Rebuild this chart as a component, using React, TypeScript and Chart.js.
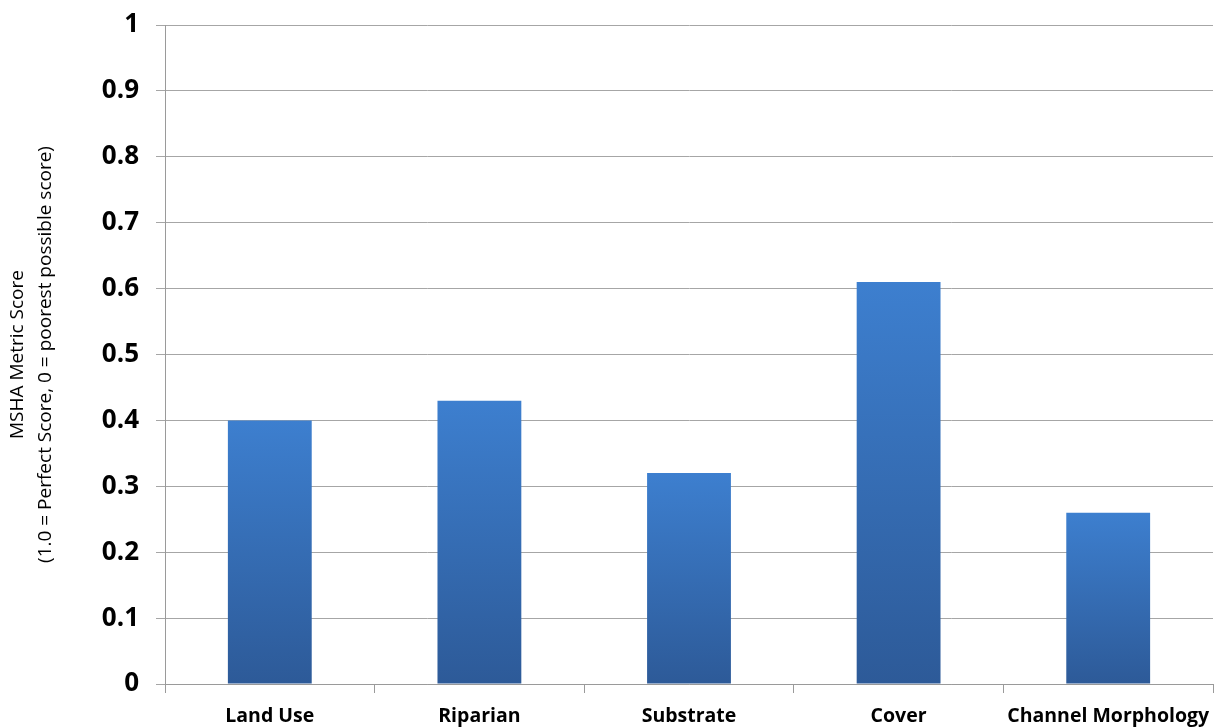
import React, { useEffect, useRef } from "react";
import { Chart, registerables } from "chart.js";

Chart.register(...registerables);

const categories = ["Land Use", "Riparian", "Substrate", "Cover", "Channel Morphology"];
const scores = [0.40, 0.43, 0.32, 0.61, 0.26];
const yTitleLines = ["MSHA Metric Score", "(1.0 = Perfect Score, 0 = poorest possible score)"];

export default function App() {
  const ref = useRef<HTMLCanvasElement | null>(null);
  useEffect(() => {
    document.body.style.margin = "0";
    const canvas = ref.current!;
    const barFill = (ctx: any) => {
      const chart = ctx.chart;
      const y = chart.scales?.y;
      if (!chart.chartArea || !y || ctx.raw == null) return "#3775c0";
      const top = y.getPixelForValue(ctx.raw);
      const bottom = y.getPixelForValue(0);
      if (!isFinite(top) || !isFinite(bottom) || top === bottom) return "#3775c0";
      const g = chart.ctx.createLinearGradient(0, top, 0, bottom);
      g.addColorStop(0, "#3d7fcf");
      g.addColorStop(1, "#2d5a98");
      return g;
    };
    const chart = new Chart(canvas, {
      type: "bar",
      data: {
        labels: categories,
        datasets: [
          {
            data: scores,
            backgroundColor: barFill,
            borderWidth: 0,
            barPercentage: 0.8,
            categoryPercentage: 0.5,
          },
        ],
      },
      options: {
        animation: false,
        responsive: false,
        maintainAspectRatio: false,
        layout: { padding: { top: 25, right: 0, left: 0, bottom: 0 } },
        plugins: { legend: { display: false }, tooltip: { enabled: false } },
        scales: {
          x: {
            grid: {
              display: true,
              drawOnChartArea: false,
              color: "#9a9a9a",
              tickLength: 9,
              offset: true,
            },
            border: { display: true, color: "#9a9a9a" },
            ticks: {
              color: "#000",
              font: { family: "Open Sans", size: 19.5, weight: "bold" },
              padding: 12,
              maxRotation: 0,
              autoSkip: false,
            },
            afterFit: (s: any) => {
              s.height = 44;
              s.paddingRight = 1;
              s.paddingLeft = 0;
            },
          },
          y: {
            min: 0,
            max: 1,
            ticks: {
              stepSize: 0.1,
              color: "#000",
              font: { family: "Open Sans", size: 26, weight: "bold" },
              padding: 17,
              callback: (v: any) => String(Math.round(Number(v) * 10) / 10),
            },
            grid: { color: "#a6a6a6", tickLength: 9 },
            border: { display: true, color: "#9a9a9a" },
            title: {
              display: true,
              text: yTitleLines,
              color: "#000",
              font: { family: "Open Sans", size: 19, weight: "normal", lineHeight: 1.5 },
              padding: { top: 3, bottom: 0 },
            },
            afterFit: (s: any) => {
              s.width = 165;
              s.paddingTop = 0;
              s.paddingBottom = 0;
            },
          },
        },
      },
    });
    return () => chart.destroy();
  }, []);
  return (
    <div style={{ position: "fixed", left: 0, top: 0, width: 1214, height: 728, background: "#fff" }}>
      <canvas ref={ref} width={1214} height={728} style={{ width: 1214, height: 728, display: "block" }} />
    </div>
  );
}
